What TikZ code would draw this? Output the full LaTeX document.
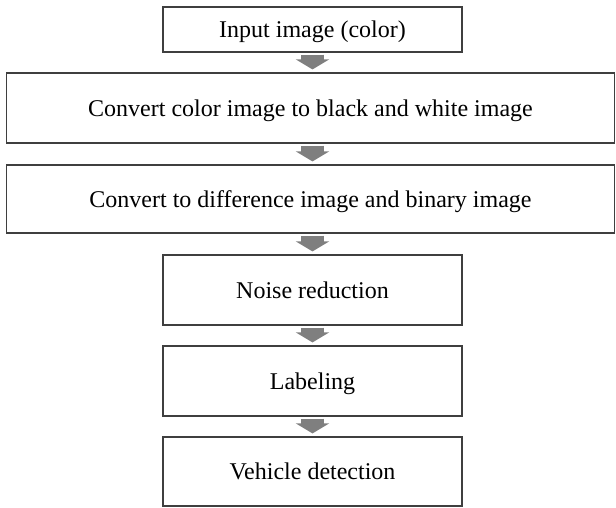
\documentclass[tikz,border=0pt]{standalone}
\usepackage{fontspec}
\setmainfont{Liberation Serif}
\usetikzlibrary{arrows.meta}
\definecolor{boxline}{HTML}{3F3F3F}
\definecolor{flowgray}{HTML}{7F7F7F}
\tikzset{
  stepbox/.style={draw=boxline, line width=1.2pt, fill=white, inner sep=0pt,
    font=\fontsize{24}{28}\selectfont, text height=16pt, text depth=0pt},
  flow/.style={draw=flowgray, line width=23pt,
    -{Triangle[width=33pt,length=10pt]}}
}
\begin{document}
\begin{tikzpicture}[x=1pt,y=-1pt]
  \useasboundingbox (0,0) rectangle (616,507);
  \node[stepbox, minimum width=299pt, minimum height=45pt] (b1) at (312.5,29.5) {Input image (color)};
  \node[stepbox, minimum width=608pt, minimum height=70pt] (b2) at (310.5,108) {Convert color image to black and white image};
  \node[stepbox, minimum width=608pt, minimum height=68pt] (b3) at (310.5,199) {Convert to difference image and binary image};
  \node[stepbox, minimum width=299pt, minimum height=70pt] (b4) at (312.5,290) {Noise reduction};
  \node[stepbox, minimum width=299pt, minimum height=70pt] (b5) at (312.5,381) {Labeling};
  \node[stepbox, minimum width=299pt, minimum height=69pt] (b6) at (312.5,471.5) {Vehicle detection};
  % straight down arrows, all on the axis of the narrow boxes
  \foreach \a/\b in {b1/b2, b2/b3, b3/b4, b4/b5, b5/b6}
    \draw[flow] ([yshift=-2pt]b1.south |- \a.south) -- ([yshift=3pt]b1.south |- \b.north);
\end{tikzpicture}
\end{document}
